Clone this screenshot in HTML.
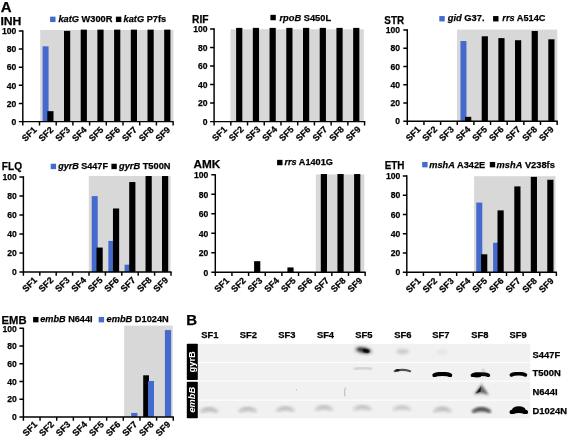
<!DOCTYPE html>
<html><head><meta charset="utf-8"><title>Figure</title>
<style>
html,body{margin:0;padding:0;background:#fff;}
svg{display:block}
text{font-family:"Liberation Sans", sans-serif;font-weight:bold;fill:#000;stroke:#000;stroke-width:0.25px}
.yl{font-size:9.6px}
.xl{font-size:9.0px}
.ti{font-size:11.7px}
.lg{font-size:9.7px}
.pl{font-size:15px}
.bl{font-size:9px;fill:#fff;stroke:none}
.sl{font-size:9.4px}
.rl{font-size:9.4px}
</style></head><body>
<svg width="567" height="437" viewBox="0 0 567 437">
<rect width="567" height="437" fill="#fff"/>
<rect x="40.20" y="30.00" width="133.20" height="91.60" fill="#d8d8d8"/>
<rect x="42.60" y="46.32" width="6.00" height="75.28" fill="#456ace"/>
<rect x="47.30" y="111.17" width="6.20" height="10.43" fill="#000"/>
<rect x="64.00" y="30.90" width="6.20" height="90.70" fill="#000"/>
<rect x="80.70" y="29.63" width="6.20" height="91.97" fill="#000"/>
<rect x="97.40" y="29.63" width="6.20" height="91.97" fill="#000"/>
<rect x="114.10" y="29.63" width="6.20" height="91.97" fill="#000"/>
<rect x="130.80" y="29.63" width="6.20" height="91.97" fill="#000"/>
<rect x="147.50" y="29.63" width="6.20" height="91.97" fill="#000"/>
<rect x="164.20" y="29.63" width="6.20" height="91.97" fill="#000"/>
<path d="M22.80 30.30V121.60H173.70" fill="none" stroke="#000" stroke-width="1.45"/>
<path d="M18.80 121.60H22.80M18.80 103.46H22.80M18.80 85.32H22.80M18.80 67.18H22.80M18.80 49.04H22.80M18.80 30.90H22.80M22.80 121.60V125.40M39.50 121.60V125.40M56.20 121.60V125.40M72.90 121.60V125.40M89.60 121.60V125.40M106.30 121.60V125.40M123.00 121.60V125.40M139.70 121.60V125.40M156.40 121.60V125.40M173.10 121.60V125.40" fill="none" stroke="#000" stroke-width="1.45"/>
<text x="11.52" y="124.80" class="yl" textLength="4.78" lengthAdjust="spacingAndGlyphs">0</text>
<text x="6.74" y="106.66" class="yl" textLength="9.56" lengthAdjust="spacingAndGlyphs">20</text>
<text x="6.74" y="88.52" class="yl" textLength="9.56" lengthAdjust="spacingAndGlyphs">40</text>
<text x="6.74" y="70.38" class="yl" textLength="9.56" lengthAdjust="spacingAndGlyphs">60</text>
<text x="6.74" y="52.24" class="yl" textLength="9.56" lengthAdjust="spacingAndGlyphs">80</text>
<text x="1.96" y="34.10" class="yl" textLength="14.34" lengthAdjust="spacingAndGlyphs">100</text>
<text transform="translate(37.30 130.40) rotate(-45)" text-anchor="end" class="xl">SF1</text>
<text transform="translate(54.00 130.40) rotate(-45)" text-anchor="end" class="xl">SF2</text>
<text transform="translate(70.70 130.40) rotate(-45)" text-anchor="end" class="xl">SF3</text>
<text transform="translate(87.40 130.40) rotate(-45)" text-anchor="end" class="xl">SF4</text>
<text transform="translate(104.10 130.40) rotate(-45)" text-anchor="end" class="xl">SF5</text>
<text transform="translate(120.80 130.40) rotate(-45)" text-anchor="end" class="xl">SF6</text>
<text transform="translate(137.50 130.40) rotate(-45)" text-anchor="end" class="xl">SF7</text>
<text transform="translate(154.20 130.40) rotate(-45)" text-anchor="end" class="xl">SF8</text>
<text transform="translate(170.90 130.40) rotate(-45)" text-anchor="end" class="xl">SF9</text>
<text x="0.40" y="25.20" class="ti" textLength="21.00" lengthAdjust="spacingAndGlyphs">INH</text>
<rect x="50.10" y="16.65" width="5.4" height="5.4" fill="#456ace"/>
<text x="58.40" y="21.95" class="lg" textLength="54.00" lengthAdjust="spacingAndGlyphs"><tspan font-style="italic">katG</tspan> W300R</text>
<rect x="115.90" y="16.65" width="5.4" height="5.4" fill="#000"/>
<text x="123.60" y="21.95" class="lg" textLength="42.60" lengthAdjust="spacingAndGlyphs"><tspan font-style="italic">katG</tspan> P7fs</text>
<rect x="230.50" y="29.30" width="133.30" height="92.30" fill="#d8d8d8"/>
<rect x="236.12" y="27.88" width="6.20" height="93.72" fill="#000"/>
<rect x="252.84" y="27.88" width="6.20" height="93.72" fill="#000"/>
<rect x="269.56" y="27.88" width="6.20" height="93.72" fill="#000"/>
<rect x="286.28" y="27.88" width="6.20" height="93.72" fill="#000"/>
<rect x="303.00" y="27.88" width="6.20" height="93.72" fill="#000"/>
<rect x="319.72" y="27.88" width="6.20" height="93.72" fill="#000"/>
<rect x="336.44" y="27.88" width="6.20" height="93.72" fill="#000"/>
<rect x="353.16" y="27.88" width="6.20" height="93.72" fill="#000"/>
<path d="M214.10 28.30V121.60H365.18" fill="none" stroke="#000" stroke-width="1.45"/>
<path d="M210.10 121.60H214.10M210.10 103.06H214.10M210.10 84.52H214.10M210.10 65.98H214.10M210.10 47.44H214.10M210.10 28.90H214.10M214.10 121.60V125.40M230.82 121.60V125.40M247.54 121.60V125.40M264.26 121.60V125.40M280.98 121.60V125.40M297.70 121.60V125.40M314.42 121.60V125.40M331.14 121.60V125.40M347.86 121.60V125.40M364.58 121.60V125.40" fill="none" stroke="#000" stroke-width="1.45"/>
<text x="202.82" y="124.80" class="yl" textLength="4.78" lengthAdjust="spacingAndGlyphs">0</text>
<text x="198.04" y="106.26" class="yl" textLength="9.56" lengthAdjust="spacingAndGlyphs">20</text>
<text x="198.04" y="87.72" class="yl" textLength="9.56" lengthAdjust="spacingAndGlyphs">40</text>
<text x="198.04" y="69.18" class="yl" textLength="9.56" lengthAdjust="spacingAndGlyphs">60</text>
<text x="198.04" y="50.64" class="yl" textLength="9.56" lengthAdjust="spacingAndGlyphs">80</text>
<text x="193.26" y="32.10" class="yl" textLength="14.34" lengthAdjust="spacingAndGlyphs">100</text>
<text transform="translate(227.52 130.00) rotate(-45)" text-anchor="end" class="xl">SF1</text>
<text transform="translate(244.24 130.00) rotate(-45)" text-anchor="end" class="xl">SF2</text>
<text transform="translate(260.96 130.00) rotate(-45)" text-anchor="end" class="xl">SF3</text>
<text transform="translate(277.68 130.00) rotate(-45)" text-anchor="end" class="xl">SF4</text>
<text transform="translate(294.40 130.00) rotate(-45)" text-anchor="end" class="xl">SF5</text>
<text transform="translate(311.12 130.00) rotate(-45)" text-anchor="end" class="xl">SF6</text>
<text transform="translate(327.84 130.00) rotate(-45)" text-anchor="end" class="xl">SF7</text>
<text transform="translate(344.56 130.00) rotate(-45)" text-anchor="end" class="xl">SF8</text>
<text transform="translate(361.28 130.00) rotate(-45)" text-anchor="end" class="xl">SF9</text>
<text x="192.00" y="23.00" class="ti" textLength="16.50" lengthAdjust="spacingAndGlyphs">RIF</text>
<rect x="270.40" y="14.85" width="5.4" height="5.4" fill="#000"/>
<text x="279.50" y="20.85" class="lg" textLength="51.60" lengthAdjust="spacingAndGlyphs"><tspan font-style="italic">rpoB</tspan> S450L</text>
<rect x="457.00" y="29.60" width="100.30" height="91.60" fill="#d8d8d8"/>
<rect x="460.45" y="41.04" width="6.00" height="80.16" fill="#456ace"/>
<rect x="465.05" y="116.82" width="6.20" height="4.38" fill="#000"/>
<rect x="481.70" y="36.29" width="6.20" height="84.91" fill="#000"/>
<rect x="498.35" y="38.12" width="6.20" height="83.08" fill="#000"/>
<rect x="515.00" y="40.22" width="6.20" height="80.98" fill="#000"/>
<rect x="531.65" y="31.00" width="6.20" height="90.20" fill="#000"/>
<rect x="548.30" y="39.30" width="6.20" height="81.90" fill="#000"/>
<path d="M407.30 29.30V121.20H557.75" fill="none" stroke="#000" stroke-width="1.45"/>
<path d="M403.30 121.20H407.30M403.30 102.94H407.30M403.30 84.68H407.30M403.30 66.42H407.30M403.30 48.16H407.30M403.30 29.90H407.30M407.30 121.20V125.00M423.95 121.20V125.00M440.60 121.20V125.00M457.25 121.20V125.00M473.90 121.20V125.00M490.55 121.20V125.00M507.20 121.20V125.00M523.85 121.20V125.00M540.50 121.20V125.00M557.15 121.20V125.00" fill="none" stroke="#000" stroke-width="1.45"/>
<text x="395.22" y="124.40" class="yl" textLength="4.78" lengthAdjust="spacingAndGlyphs">0</text>
<text x="390.44" y="106.14" class="yl" textLength="9.56" lengthAdjust="spacingAndGlyphs">20</text>
<text x="390.44" y="87.88" class="yl" textLength="9.56" lengthAdjust="spacingAndGlyphs">40</text>
<text x="390.44" y="69.62" class="yl" textLength="9.56" lengthAdjust="spacingAndGlyphs">60</text>
<text x="390.44" y="51.36" class="yl" textLength="9.56" lengthAdjust="spacingAndGlyphs">80</text>
<text x="385.66" y="33.10" class="yl" textLength="14.34" lengthAdjust="spacingAndGlyphs">100</text>
<text transform="translate(421.15 130.00) rotate(-45)" text-anchor="end" class="xl">SF1</text>
<text transform="translate(437.80 130.00) rotate(-45)" text-anchor="end" class="xl">SF2</text>
<text transform="translate(454.45 130.00) rotate(-45)" text-anchor="end" class="xl">SF3</text>
<text transform="translate(471.10 130.00) rotate(-45)" text-anchor="end" class="xl">SF4</text>
<text transform="translate(487.75 130.00) rotate(-45)" text-anchor="end" class="xl">SF5</text>
<text transform="translate(504.40 130.00) rotate(-45)" text-anchor="end" class="xl">SF6</text>
<text transform="translate(521.05 130.00) rotate(-45)" text-anchor="end" class="xl">SF7</text>
<text transform="translate(537.70 130.00) rotate(-45)" text-anchor="end" class="xl">SF8</text>
<text transform="translate(554.35 130.00) rotate(-45)" text-anchor="end" class="xl">SF9</text>
<text x="384.30" y="24.30" class="ti" textLength="19.80" lengthAdjust="spacingAndGlyphs">STR</text>
<rect x="439.30" y="16.05" width="5.4" height="5.4" fill="#456ace"/>
<text x="447.80" y="21.35" class="lg" textLength="36.80" lengthAdjust="spacingAndGlyphs"><tspan font-style="italic">gid</tspan> G37.</text>
<rect x="493.10" y="16.05" width="5.4" height="5.4" fill="#000"/>
<text x="502.30" y="21.35" class="lg" textLength="43.20" lengthAdjust="spacingAndGlyphs"><tspan font-style="italic">rrs</tspan> A514C</text>
<rect x="88.80" y="176.00" width="81.80" height="96.00" fill="#d8d8d8"/>
<rect x="91.70" y="196.11" width="6.00" height="75.89" fill="#456ace"/>
<rect x="96.50" y="247.56" width="6.20" height="24.44" fill="#000"/>
<rect x="108.35" y="240.90" width="6.00" height="31.10" fill="#456ace"/>
<rect x="112.95" y="208.47" width="6.20" height="63.53" fill="#000"/>
<rect x="124.60" y="264.68" width="6.00" height="7.32" fill="#456ace"/>
<rect x="129.20" y="182.04" width="6.20" height="89.96" fill="#000"/>
<rect x="145.55" y="176.04" width="6.20" height="95.96" fill="#000"/>
<rect x="162.00" y="176.04" width="6.20" height="95.96" fill="#000"/>
<path d="M23.40 176.30V272.00H171.60" fill="none" stroke="#000" stroke-width="1.45"/>
<path d="M19.40 272.00H23.40M19.40 252.98H23.40M19.40 233.96H23.40M19.40 214.94H23.40M19.40 195.92H23.40M19.40 176.90H23.40M23.40 272.00V275.80M39.80 272.00V275.80M56.20 272.00V275.80M72.60 272.00V275.80M89.00 272.00V275.80M105.40 272.00V275.80M121.80 272.00V275.80M138.20 272.00V275.80M154.60 272.00V275.80M171.00 272.00V275.80" fill="none" stroke="#000" stroke-width="1.45"/>
<text x="12.12" y="275.20" class="yl" textLength="4.78" lengthAdjust="spacingAndGlyphs">0</text>
<text x="7.34" y="256.18" class="yl" textLength="9.56" lengthAdjust="spacingAndGlyphs">20</text>
<text x="7.34" y="237.16" class="yl" textLength="9.56" lengthAdjust="spacingAndGlyphs">40</text>
<text x="7.34" y="218.14" class="yl" textLength="9.56" lengthAdjust="spacingAndGlyphs">60</text>
<text x="7.34" y="199.12" class="yl" textLength="9.56" lengthAdjust="spacingAndGlyphs">80</text>
<text x="2.56" y="180.10" class="yl" textLength="14.34" lengthAdjust="spacingAndGlyphs">100</text>
<text transform="translate(37.60 280.80) rotate(-45)" text-anchor="end" class="xl">SF1</text>
<text transform="translate(54.00 280.80) rotate(-45)" text-anchor="end" class="xl">SF2</text>
<text transform="translate(70.40 280.80) rotate(-45)" text-anchor="end" class="xl">SF3</text>
<text transform="translate(86.80 280.80) rotate(-45)" text-anchor="end" class="xl">SF4</text>
<text transform="translate(103.20 280.80) rotate(-45)" text-anchor="end" class="xl">SF5</text>
<text transform="translate(119.60 280.80) rotate(-45)" text-anchor="end" class="xl">SF6</text>
<text transform="translate(136.00 280.80) rotate(-45)" text-anchor="end" class="xl">SF7</text>
<text transform="translate(152.40 280.80) rotate(-45)" text-anchor="end" class="xl">SF8</text>
<text transform="translate(168.80 280.80) rotate(-45)" text-anchor="end" class="xl">SF9</text>
<text x="1.80" y="169.70" class="ti" textLength="20.20" lengthAdjust="spacingAndGlyphs">FLQ</text>
<rect x="50.70" y="163.75" width="5.4" height="5.4" fill="#456ace"/>
<text x="58.20" y="169.05" class="lg" textLength="49.70" lengthAdjust="spacingAndGlyphs"><tspan font-style="italic">gyrB</tspan> S447F</text>
<rect x="111.40" y="163.75" width="5.4" height="5.4" fill="#000"/>
<text x="119.00" y="169.05" class="lg" textLength="51.50" lengthAdjust="spacingAndGlyphs"><tspan font-style="italic">gyrB</tspan> T500N</text>
<rect x="315.80" y="174.50" width="48.50" height="97.80" fill="#d8d8d8"/>
<rect x="254.10" y="261.19" width="6.20" height="11.12" fill="#000"/>
<rect x="287.40" y="267.43" width="6.20" height="4.88" fill="#000"/>
<rect x="320.80" y="174.02" width="6.20" height="98.28" fill="#000"/>
<rect x="337.45" y="174.02" width="6.20" height="98.28" fill="#000"/>
<rect x="354.10" y="174.02" width="6.20" height="98.28" fill="#000"/>
<path d="M215.30 174.20V272.30H365.75" fill="none" stroke="#000" stroke-width="1.45"/>
<path d="M211.30 272.30H215.30M211.30 252.80H215.30M211.30 233.30H215.30M211.30 213.80H215.30M211.30 194.30H215.30M211.30 174.80H215.30M215.30 272.30V276.10M231.95 272.30V276.10M248.60 272.30V276.10M265.25 272.30V276.10M281.90 272.30V276.10M298.55 272.30V276.10M315.20 272.30V276.10M331.85 272.30V276.10M348.50 272.30V276.10M365.15 272.30V276.10" fill="none" stroke="#000" stroke-width="1.45"/>
<text x="203.62" y="275.50" class="yl" textLength="4.78" lengthAdjust="spacingAndGlyphs">0</text>
<text x="198.84" y="256.00" class="yl" textLength="9.56" lengthAdjust="spacingAndGlyphs">20</text>
<text x="198.84" y="236.50" class="yl" textLength="9.56" lengthAdjust="spacingAndGlyphs">40</text>
<text x="198.84" y="217.00" class="yl" textLength="9.56" lengthAdjust="spacingAndGlyphs">60</text>
<text x="198.84" y="197.50" class="yl" textLength="9.56" lengthAdjust="spacingAndGlyphs">80</text>
<text x="194.06" y="178.00" class="yl" textLength="14.34" lengthAdjust="spacingAndGlyphs">100</text>
<text transform="translate(229.75 281.10) rotate(-45)" text-anchor="end" class="xl">SF1</text>
<text transform="translate(246.40 281.10) rotate(-45)" text-anchor="end" class="xl">SF2</text>
<text transform="translate(263.05 281.10) rotate(-45)" text-anchor="end" class="xl">SF3</text>
<text transform="translate(279.70 281.10) rotate(-45)" text-anchor="end" class="xl">SF4</text>
<text transform="translate(296.35 281.10) rotate(-45)" text-anchor="end" class="xl">SF5</text>
<text transform="translate(313.00 281.10) rotate(-45)" text-anchor="end" class="xl">SF6</text>
<text transform="translate(329.65 281.10) rotate(-45)" text-anchor="end" class="xl">SF7</text>
<text transform="translate(346.30 281.10) rotate(-45)" text-anchor="end" class="xl">SF8</text>
<text transform="translate(362.95 281.10) rotate(-45)" text-anchor="end" class="xl">SF9</text>
<text x="193.50" y="167.90" class="ti" textLength="26.80" lengthAdjust="spacingAndGlyphs">AMK</text>
<rect x="277.10" y="159.85" width="5.4" height="5.4" fill="#000"/>
<text x="284.40" y="165.15" class="lg" textLength="48.50" lengthAdjust="spacingAndGlyphs"><tspan font-style="italic">rrs</tspan> A1401G</text>
<rect x="474.10" y="176.20" width="81.40" height="96.00" fill="#d8d8d8"/>
<rect x="476.28" y="202.58" width="6.00" height="69.62" fill="#456ace"/>
<rect x="481.08" y="254.29" width="6.20" height="17.91" fill="#000"/>
<rect x="493.10" y="242.73" width="6.00" height="29.47" fill="#456ace"/>
<rect x="497.50" y="210.38" width="6.20" height="61.82" fill="#000"/>
<rect x="514.29" y="186.40" width="6.20" height="85.80" fill="#000"/>
<rect x="530.78" y="176.86" width="6.20" height="95.34" fill="#000"/>
<rect x="547.27" y="179.75" width="6.20" height="92.45" fill="#000"/>
<path d="M406.80 175.30V272.20H556.98" fill="none" stroke="#000" stroke-width="1.45"/>
<path d="M402.80 272.20H406.80M402.80 252.94H406.80M402.80 233.68H406.80M402.80 214.42H406.80M402.80 195.16H406.80M402.80 175.90H406.80M406.80 272.20V276.00M423.42 272.20V276.00M440.04 272.20V276.00M456.66 272.20V276.00M473.28 272.20V276.00M489.90 272.20V276.00M506.52 272.20V276.00M523.14 272.20V276.00M539.76 272.20V276.00M556.38 272.20V276.00" fill="none" stroke="#000" stroke-width="1.45"/>
<text x="395.52" y="275.40" class="yl" textLength="4.78" lengthAdjust="spacingAndGlyphs">0</text>
<text x="390.74" y="256.14" class="yl" textLength="9.56" lengthAdjust="spacingAndGlyphs">20</text>
<text x="390.74" y="236.88" class="yl" textLength="9.56" lengthAdjust="spacingAndGlyphs">40</text>
<text x="390.74" y="217.62" class="yl" textLength="9.56" lengthAdjust="spacingAndGlyphs">60</text>
<text x="390.74" y="198.36" class="yl" textLength="9.56" lengthAdjust="spacingAndGlyphs">80</text>
<text x="385.96" y="179.10" class="yl" textLength="14.34" lengthAdjust="spacingAndGlyphs">100</text>
<text transform="translate(421.22 281.50) rotate(-45)" text-anchor="end" class="xl">SF1</text>
<text transform="translate(437.84 281.50) rotate(-45)" text-anchor="end" class="xl">SF2</text>
<text transform="translate(454.46 281.50) rotate(-45)" text-anchor="end" class="xl">SF3</text>
<text transform="translate(471.08 281.50) rotate(-45)" text-anchor="end" class="xl">SF4</text>
<text transform="translate(487.70 281.50) rotate(-45)" text-anchor="end" class="xl">SF5</text>
<text transform="translate(504.32 281.50) rotate(-45)" text-anchor="end" class="xl">SF6</text>
<text transform="translate(520.94 281.50) rotate(-45)" text-anchor="end" class="xl">SF7</text>
<text transform="translate(537.56 281.50) rotate(-45)" text-anchor="end" class="xl">SF8</text>
<text transform="translate(554.18 281.50) rotate(-45)" text-anchor="end" class="xl">SF9</text>
<text x="384.70" y="168.50" class="ti" textLength="19.80" lengthAdjust="spacingAndGlyphs">ETH</text>
<rect x="422.20" y="161.95" width="5.4" height="5.4" fill="#456ace"/>
<text x="429.30" y="167.65" class="lg" textLength="55.90" lengthAdjust="spacingAndGlyphs"><tspan font-style="italic">mshA</tspan> A342E</text>
<rect x="489.80" y="161.95" width="5.4" height="5.4" fill="#000"/>
<text x="496.60" y="167.65" class="lg" textLength="58.20" lengthAdjust="spacingAndGlyphs"><tspan font-style="italic">mshA</tspan> V238fs</text>
<rect x="124.20" y="325.60" width="48.60" height="91.40" fill="#d8d8d8"/>
<rect x="131.20" y="412.92" width="6.20" height="4.08" fill="#456ace"/>
<rect x="143.20" y="375.31" width="5.80" height="41.69" fill="#000"/>
<rect x="148.00" y="380.99" width="6.00" height="36.01" fill="#456ace"/>
<rect x="164.90" y="330.07" width="6.20" height="86.93" fill="#456ace"/>
<path d="M23.40 327.70V417.00H173.85" fill="none" stroke="#000" stroke-width="1.45"/>
<path d="M19.40 417.00H23.40M19.40 399.26H23.40M19.40 381.52H23.40M19.40 363.78H23.40M19.40 346.04H23.40M19.40 328.30H23.40M23.40 417.00V420.80M40.05 417.00V420.80M56.70 417.00V420.80M73.35 417.00V420.80M90.00 417.00V420.80M106.65 417.00V420.80M123.30 417.00V420.80M139.95 417.00V420.80M156.60 417.00V420.80M173.25 417.00V420.80" fill="none" stroke="#000" stroke-width="1.45"/>
<text x="12.12" y="420.20" class="yl" textLength="4.78" lengthAdjust="spacingAndGlyphs">0</text>
<text x="7.34" y="402.46" class="yl" textLength="9.56" lengthAdjust="spacingAndGlyphs">20</text>
<text x="7.34" y="384.72" class="yl" textLength="9.56" lengthAdjust="spacingAndGlyphs">40</text>
<text x="7.34" y="366.98" class="yl" textLength="9.56" lengthAdjust="spacingAndGlyphs">60</text>
<text x="7.34" y="349.24" class="yl" textLength="9.56" lengthAdjust="spacingAndGlyphs">80</text>
<text x="2.56" y="331.50" class="yl" textLength="14.34" lengthAdjust="spacingAndGlyphs">100</text>
<text transform="translate(37.85 425.00) rotate(-45)" text-anchor="end" class="xl">SF1</text>
<text transform="translate(54.50 425.00) rotate(-45)" text-anchor="end" class="xl">SF2</text>
<text transform="translate(71.15 425.00) rotate(-45)" text-anchor="end" class="xl">SF3</text>
<text transform="translate(87.80 425.00) rotate(-45)" text-anchor="end" class="xl">SF4</text>
<text transform="translate(104.45 425.00) rotate(-45)" text-anchor="end" class="xl">SF5</text>
<text transform="translate(121.10 425.00) rotate(-45)" text-anchor="end" class="xl">SF6</text>
<text transform="translate(137.75 425.00) rotate(-45)" text-anchor="end" class="xl">SF7</text>
<text transform="translate(154.40 425.00) rotate(-45)" text-anchor="end" class="xl">SF8</text>
<text transform="translate(171.05 425.00) rotate(-45)" text-anchor="end" class="xl">SF9</text>
<text x="1.60" y="323.60" class="ti" textLength="25.00" lengthAdjust="spacingAndGlyphs">EMB</text>
<rect x="33.10" y="316.95" width="5.4" height="5.4" fill="#000"/>
<text x="40.20" y="322.25" class="lg" textLength="52.40" lengthAdjust="spacingAndGlyphs"><tspan font-style="italic">embB</tspan> N644I</text>
<rect x="98.70" y="316.95" width="5.4" height="5.4" fill="#456ace"/>
<text x="106.50" y="322.25" class="lg" textLength="62.30" lengthAdjust="spacingAndGlyphs"><tspan font-style="italic">embB</tspan> D1024N</text>
<text x="0.8" y="11.6" class="pl">A</text>
<text x="186.2" y="324.8" class="pl">B</text>
<rect x="197.5" y="343.9" width="332.70000000000005" height="74.40000000000003" fill="#f1f1f1"/>
<defs><filter id="b1" x="-30%" y="-100%" width="160%" height="300%"><feGaussianBlur stdDeviation="0.9"/></filter><filter id="b2" x="-30%" y="-100%" width="160%" height="300%"><feGaussianBlur stdDeviation="1.7"/></filter><filter id="b3" x="-30%" y="-100%" width="160%" height="300%"><feGaussianBlur stdDeviation="0.65"/></filter></defs>
<path d="M201.9 411.2Q209.2 406.4 216.4 411.2" fill="none" stroke="#000" stroke-opacity="0.16" stroke-width="4.2" stroke-linecap="round" filter="url(#b2)"/>
<ellipse cx="209.2" cy="410.0" rx="6.5" ry="2.6" fill="#000" fill-opacity="0.07" filter="url(#b2)" transform="rotate(0 209.2 410.0)"/>
<path d="M240.4 410.8Q247.7 406.0 254.9 410.8" fill="none" stroke="#000" stroke-opacity="0.15" stroke-width="4.2" stroke-linecap="round" filter="url(#b2)"/>
<ellipse cx="247.7" cy="409.59999999999997" rx="6.5" ry="2.6" fill="#000" fill-opacity="0.07" filter="url(#b2)" transform="rotate(0 247.7 409.59999999999997)"/>
<path d="M278.1 410.2Q285.4 405.4 292.6 410.2" fill="none" stroke="#000" stroke-opacity="0.15" stroke-width="4.2" stroke-linecap="round" filter="url(#b2)"/>
<ellipse cx="285.4" cy="409.0" rx="6.5" ry="2.6" fill="#000" fill-opacity="0.07" filter="url(#b2)" transform="rotate(0 285.4 409.0)"/>
<path d="M316.8 409.2Q324.0 404.4 331.2 409.2" fill="none" stroke="#000" stroke-opacity="0.14" stroke-width="4.2" stroke-linecap="round" filter="url(#b2)"/>
<ellipse cx="324.0" cy="408.0" rx="6.5" ry="2.6" fill="#000" fill-opacity="0.07" filter="url(#b2)" transform="rotate(0 324.0 408.0)"/>
<path d="M355.2 409.0Q362.5 404.2 369.8 409.0" fill="none" stroke="#000" stroke-opacity="0.13" stroke-width="4.2" stroke-linecap="round" filter="url(#b2)"/>
<ellipse cx="362.5" cy="407.8" rx="6.5" ry="2.6" fill="#000" fill-opacity="0.07" filter="url(#b2)" transform="rotate(0 362.5 407.8)"/>
<path d="M394.6 409.2Q401.9 404.4 409.1 409.2" fill="none" stroke="#000" stroke-opacity="0.11" stroke-width="4.2" stroke-linecap="round" filter="url(#b2)"/>
<ellipse cx="401.9" cy="408.0" rx="6.5" ry="2.6" fill="#000" fill-opacity="0.07" filter="url(#b2)" transform="rotate(0 401.9 408.0)"/>
<path d="M435.1 410.9Q442.3 405.7 449.6 410.9" fill="none" stroke="#000" stroke-opacity="0.15" stroke-width="4.2" stroke-linecap="round" filter="url(#b2)"/>
<ellipse cx="442.3" cy="409.6" rx="6.0" ry="2.8" fill="#000" fill-opacity="0.08" filter="url(#b2)" transform="rotate(0 442.3 409.6)"/>
<path d="M473.8 411.2Q481.5 406.4 489.2 411.2" fill="none" stroke="#000" stroke-opacity="0.55" stroke-width="4.2" stroke-linecap="round" filter="url(#b1)"/>
<ellipse cx="481.5" cy="410.0" rx="6.5" ry="2.6" fill="#000" fill-opacity="0.25" filter="url(#b2)" transform="rotate(0 481.5 410.0)"/>
<path d="M512.0 412.2Q518.8 409.0 525.6 412.2" fill="none" stroke="#000" stroke-opacity="1" stroke-width="4.8" stroke-linecap="round" filter="url(#b3)"/>
<ellipse cx="518.8" cy="409.4" rx="6.6" ry="3.2" fill="#000" fill-opacity="1" filter="url(#b3)" transform="rotate(0 518.8 409.4)"/>
<path d="M434.5 375.3C437.3 373.5 447.3 373.5 450.1 375.3" fill="none" stroke="#000" stroke-opacity="1" stroke-width="4.3" stroke-linecap="round" filter="url(#b3)"/>
<path d="M472.5 375.3C475.3 373.7 485.5 373.7 488.3 375.3" fill="none" stroke="#000" stroke-opacity="0.95" stroke-width="3.8" stroke-linecap="round" filter="url(#b3)"/>
<ellipse cx="476.9" cy="375.0" rx="4.8" ry="2.5" fill="#000" fill-opacity="1" filter="url(#b3)" transform="rotate(0 476.9 375.0)"/>
<ellipse cx="483.3" cy="371.0" rx="1.2" ry="2.6" fill="#000" fill-opacity="0.2" filter="url(#b1)" transform="rotate(0 483.3 371.0)"/>
<path d="M511.4 374.9C513.9 373.1 522.9 373.1 525.4 374.9" fill="none" stroke="#000" stroke-opacity="1" stroke-width="3.7" stroke-linecap="round" filter="url(#b3)"/>
<path d="M394.7 371.2Q402.4 368.6 410.1 371.2" fill="none" stroke="#000" stroke-opacity="0.65" stroke-width="2.2" stroke-linecap="round" filter="url(#b3)"/>
<ellipse cx="397.4" cy="370.3" rx="2.3" ry="1.3" fill="#000" fill-opacity="0.75" filter="url(#b3)" transform="rotate(0 397.4 370.3)"/>
<path d="M355.0 368.9Q363.0 367.1 371.0 368.9" fill="none" stroke="#000" stroke-opacity="0.2" stroke-width="2.2" stroke-linecap="round" filter="url(#b1)"/>
<ellipse cx="363.4" cy="350.4" rx="9.0" ry="3.6" fill="#000" fill-opacity="0.3" filter="url(#b2)" transform="rotate(8 363.4 350.4)"/>
<ellipse cx="363.6" cy="350.1" rx="6.8" ry="2.3" fill="#000" fill-opacity="0.7" filter="url(#b1)" transform="rotate(10 363.6 350.1)"/>
<ellipse cx="366.0" cy="350.9" rx="3.4" ry="1.8" fill="#000" fill-opacity="0.85" filter="url(#b3)" transform="rotate(14 366.0 350.9)"/>
<ellipse cx="402.7" cy="351.6" rx="6.5" ry="2.8" fill="#000" fill-opacity="0.15" filter="url(#b2)" transform="rotate(0 402.7 351.6)"/>
<ellipse cx="442.0" cy="352.0" rx="5" ry="2.5" fill="#000" fill-opacity="0.05" filter="url(#b2)" transform="rotate(0 442.0 352.0)"/>
<path d="M481.4 384.2L473.8 394.6L481.0 392.6L489.0 395.0Z" fill="#000" fill-opacity="0.5" filter="url(#b1)"/>
<path d="M481.4 386L475 394.4L488 394.8Z" fill="#000" fill-opacity="0.15" filter="url(#b2)"/>
<path d="M481.0 386.5L475.6 393.4L480.6 391.8Z" fill="#000" fill-opacity="0.75" filter="url(#b3)"/>
<ellipse cx="481.6" cy="382.5" rx="0.8" ry="2.5" fill="#000" fill-opacity="0.12" filter="url(#b1)" transform="rotate(0 481.6 382.5)"/>
<path d="M345.3 387.6Q344.4 391 344.8 396.4" stroke="#000" stroke-opacity="0.28" stroke-width="0.9" fill="none" filter="url(#b3)"/>
<ellipse cx="296.4" cy="389.7" rx="0.7" ry="0.7" fill="#000" fill-opacity="0.2" filter="url(#b3)" transform="rotate(0 296.4 389.7)"/>
<rect x="197.5" y="362.2" width="332.70000000000005" height="1.0" fill="#fff"/>
<rect x="197.5" y="380.6" width="332.70000000000005" height="1.0" fill="#fff"/>
<rect x="197.5" y="399.6" width="332.70000000000005" height="1.0" fill="#fff"/>
<rect x="186.8" y="343.8" width="11.0" height="36.2" rx="0.8" fill="#000"/>
<rect x="186.8" y="381.8" width="11.0" height="36.5" rx="0.8" fill="#000"/>
<text transform="translate(195.3 372.5) rotate(-90)" class="bl" textLength="21.3" lengthAdjust="spacingAndGlyphs">gyrB</text>
<text transform="translate(195.3 412.6) rotate(-90)" class="bl" font-style="italic" textLength="25.8" lengthAdjust="spacingAndGlyphs">embB</text>
<text x="209.9" y="338.3" text-anchor="middle" class="sl">SF1</text>
<text x="248.4" y="338.3" text-anchor="middle" class="sl">SF2</text>
<text x="286.8" y="338.3" text-anchor="middle" class="sl">SF3</text>
<text x="325.5" y="338.3" text-anchor="middle" class="sl">SF4</text>
<text x="363.9" y="338.3" text-anchor="middle" class="sl">SF5</text>
<text x="402.9" y="338.3" text-anchor="middle" class="sl">SF6</text>
<text x="440.8" y="338.3" text-anchor="middle" class="sl">SF7</text>
<text x="479.8" y="338.3" text-anchor="middle" class="sl">SF8</text>
<text x="518.2" y="338.3" text-anchor="middle" class="sl">SF9</text>
<text x="532.6" y="357.8" class="rl">S447F</text>
<text x="532.6" y="376.4" class="rl">T500N</text>
<text x="532.6" y="394.9" class="rl">N644I</text>
<text x="532.6" y="413.6" class="rl">D1024N</text>
</svg>
</body></html>
